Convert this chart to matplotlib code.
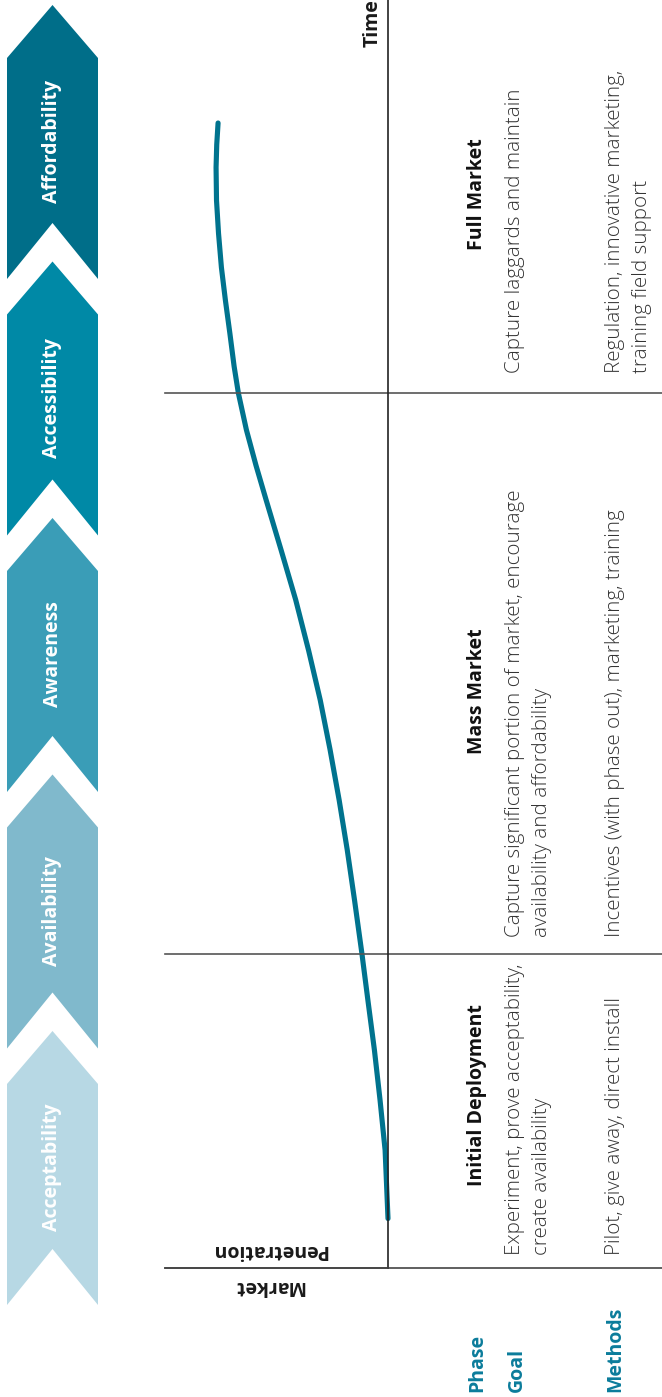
import matplotlib
matplotlib.use("Agg")
import matplotlib.pyplot as plt
from matplotlib.patches import Polygon
from matplotlib.transforms import blended_transform_factory

plt.rcParams['font.family'] = ['Open Sans', 'DejaVu Sans']

# ---------------- data ----------------
stages = ["Acceptability", "Availability", "Awareness", "Accessibility", "Affordability"]
stage_colors = ["#b7d8e4", "#80b9cc", "#3a9db7", "#0089a6", "#006e89"]

phases = ["Initial Deployment", "Mass Market", "Full Market"]
goals = [["Experiment, prove acceptability,", "create availability"],
         ["Capture significant portion of market, encourage", "availability and affordability"],
         ["Capture laggards and maintain"]]
methods = [["Pilot, give away, direct install"],
           ["Incentives (with phase out), marketing, training"],
           ["Regulation, innovative marketing,", "training field support"]]
row_labels = ["Phase", "Goal", "Methods"]

# phase boundaries on the time axis (% of axis length)
phase_bounds = [24.8, 69.0]

# adoption curve: time (%) vs market penetration (%)
time_pct = [3.9, 9.3, 13.3, 17.2, 21.1, 24.8, 29.0, 33.0, 36.9, 40.9,
            44.8, 48.7, 52.7, 56.6, 60.6, 63.3, 66.1, 69.0, 71.1, 73.7,
            76.3, 78.9, 81.6, 84.2, 86.8, 88.6, 90.3]
penetration_pct = [0.0, 1.3, 3.6, 6.1, 9.0, 11.7, 15.0, 18.3, 21.9, 26.0,
                   30.4, 35.6, 41.4, 47.9, 54.7, 59.2, 63.5, 67.1, 69.0, 70.9,
                   72.9, 74.7, 76.0, 76.9, 77.1, 76.8, 76.2]

# ---------------- figure ----------------
W, H = 662, 1397
fig = plt.figure(figsize=(W / 100, H / 100), dpi=100)

# page layer in pixel units (y downwards)
bg = fig.add_axes([0, 0, 1, 1])
bg.set_xlim(0, W)
bg.set_ylim(H, 0)
bg.axis('off')

BOLD = dict(fontweight='bold', fontsize=14)
LIGHT = dict(fontweight='light', fontsize=14.8, color='#333333')
TEAL = '#0b7c9b'

# chevron column
x0, x1 = 7, 98
xc = (x0 + x1) / 2
first_tip, step = 1031, -256.5
for i, (name, col) in enumerate(zip(stages, stage_colors)):
    tip = first_tip + i * step
    pts = [(xc, tip), (x1, tip + 53), (x1, tip + 274), (xc, tip + 218),
           (x0, tip + 274), (x0, tip + 53)]
    bg.add_patch(Polygon(pts, closed=True, facecolor=col, edgecolor='none'))
    bg.text(xc, tip + 136, name, rotation=90, ha='center', va='center',
            rotation_mode='anchor', color='white', **BOLD)

# chart axes: penetration grows to the left, time grows upwards
ax = fig.add_axes([165 / W, (H - 1268) / H, 223 / W, 1268 / H])
ax.set_xlim(100, 0)
ax.set_ylim(0, 100)
ax.set_facecolor('none')
ax.set_xticks([])
ax.set_yticks([])
for s in ('top', 'left'):
    ax.spines[s].set_visible(False)
ax.spines['right'].set_color('#222222')
ax.spines['right'].set_linewidth(1.2)
ax.spines['bottom'].set_color('#444444')
ax.spines['bottom'].set_linewidth(1.2)

ax.plot(penetration_pct, time_pct, color='#00738e', lw=3.7,
        solid_capstyle='round', solid_joinstyle='round', clip_on=False)

# table rules across the whole width
span = (W - 165) / 223
trans = blended_transform_factory(ax.transAxes, ax.transData)
ax.plot([0, span], [0, 0], transform=trans, color='#444444', lw=1.2, clip_on=False)
for b in phase_bounds:
    ax.plot([0, span], [b, b], transform=trans, color='#555555', lw=1.2, clip_on=False)

# axis titles
bg.text(378, 47, "Time", rotation=90, ha='left', va='baseline',
        rotation_mode='anchor', color='#1a1a1a', **BOLD)
bg.text(269, 1250, "Penetration", rotation=180, ha='center', va='center',
        color='#1a1a1a', **BOLD)
bg.text(269, 1286, "Market", rotation=180, ha='center', va='center',
        color='#1a1a1a', **BOLD)

# row labels
label_x = [482, 522, 620]
for lab, lx in zip(row_labels, label_x):
    bg.text(lx, 1392, lab, rotation=90, ha='left', va='baseline',
            rotation_mode='anchor', color=TEAL, **BOLD)

# phase columns
header_center = [1095, 691, 194]
text_start = [1255, 937, 373]
line_gap = 27
for ph, hc, ts, g, m in zip(phases, header_center, text_start, goals, methods):
    bg.text(482, hc, ph, rotation=90, ha='center', va='baseline',
            rotation_mode='anchor', color='#111111', **BOLD)
    for k, line in enumerate(g):
        bg.text(520 + k * line_gap, ts, line, rotation=90, ha='left', va='baseline',
                rotation_mode='anchor', **LIGHT)
    for k, line in enumerate(m):
        bg.text(620 + k * line_gap, ts, line, rotation=90, ha='left', va='baseline',
                rotation_mode='anchor', **LIGHT)

fig.savefig('out.png', dpi=100)
